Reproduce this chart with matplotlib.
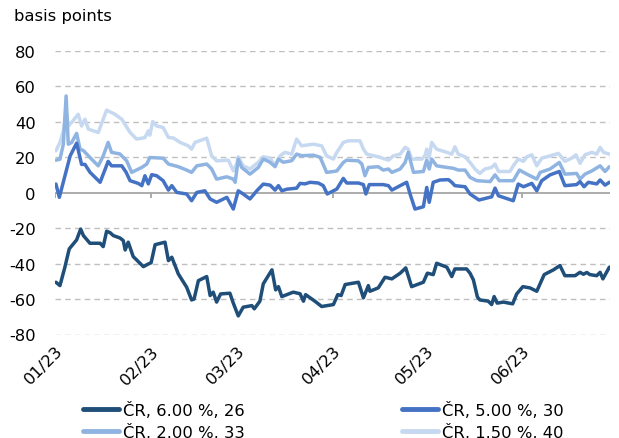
import matplotlib
matplotlib.use('Agg')
import matplotlib.pyplot as plt
import matplotlib.dates as mdates
import numpy as np
import pandas as pd

plt.rcParams['font.family'] = ['DejaVu Sans']
plt.rcParams['axes.unicode_minus'] = False

# ---------------- data (x = days after 1 Jan 2023, y = basis points) ----------------
labels = ['ČR, 6.00 %, 26', 'ČR, 5.00 %, 30', 'ČR, 2.00 %, 33', 'ČR, 1.50 %, 40']
colors = ['#1F4E79', '#4472C4', '#8FB4E2', '#C6D9F1']

days_600 = [0.3, 1.6, 3.2, 4.6, 7.0, 8.3, 9.2, 11.3, 14.6, 15.6, 16.7, 17.8, 18.9, 21.0, 22.1, 22.7,
            23.7, 25.3, 28.6, 30.2, 31.1, 32.4, 35.6, 36.7, 37.8, 39.9, 42.6, 44.2, 45.0, 46.4, 49.1,
            50.2, 51.2, 52.3, 53.6, 56.6, 57.7, 59.3, 60.9, 63.7, 64.5, 66.3, 67.4, 70.2, 71.4, 72.3,
            73.4, 77.1, 79.3, 80.4, 81.1, 84.1, 86.3, 90.1, 91.5, 92.6, 93.9, 98.2, 99.8, 101.4, 101.9,
            104.6, 106.8, 109.0, 111.7, 113.5, 115.4, 119.2, 120.5, 122.4, 123.5, 126.8, 128.4, 129.4,
            133.2, 134.3, 135.4, 136.7, 137.5, 140.2, 141.3, 142.1, 143.1, 145.1, 148.1, 149.4, 151.4,
            153.7, 155.9, 158.3, 161.3, 163.4, 165.0, 168.3, 169.9, 171.0, 172.1, 173.1, 175.3, 176.4,
            177.3, 179.4]
vals_600 = [-50.5, -52.4, -42.0, -31.7, -26.6, -20.5, -24.2, -28.5, -28.5, -30.4, -21.7, -22.5, -24.2,
            -25.5, -27.0, -32.3, -27.9, -36.0, -41.7, -40.2, -39.5, -29.3, -27.9, -38.3, -36.4, -45.8,
            -53.3, -60.5, -60.0, -49.6, -47.3, -58.0, -56.1, -61.7, -57.1, -56.7, -62.3, -69.5, -64.6,
            -63.7, -65.5, -61.2, -51.4, -43.5, -54.8, -53.0, -58.6, -56.1, -57.0, -61.2, -57.5, -61.2,
            -64.2, -63.1, -57.5, -58.0, -51.8, -50.5, -59.3, -52.4, -55.6, -53.7, -47.7, -48.6, -45.4,
            -42.4, -53.0, -50.5, -45.4, -46.2, -39.8, -42.0, -47.3, -43.0, -43.0, -45.4, -49.2, -58.9,
            -60.5, -61.2, -63.1, -58.6, -62.3, -61.7, -62.7, -57.1, -53.0, -53.7, -55.6, -46.2, -43.5,
            -41.1, -46.8, -46.8, -44.9, -46.0, -45.0, -46.2, -46.8, -44.9, -48.6, -42.0]

days_500 = [0.3, 1.4, 4.9, 7.0, 8.6, 9.7, 11.3, 14.6, 17.2, 18.3, 21.6, 23.0, 24.3, 26.9, 28.1, 29.1,
            30.2, 31.3, 32.9, 35.0, 36.7, 37.8, 39.4, 42.6, 44.2, 45.9, 48.5, 50.2, 52.3, 55.6, 57.7,
            59.3, 60.9, 63.1, 65.3, 67.4, 69.6, 71.2, 72.3, 73.4, 75.0, 78.2, 79.3, 80.9, 82.5, 85.2,
            86.8, 88.1, 90.1, 91.2, 93.3, 94.4, 98.2, 99.8, 100.6, 101.7, 106.2, 107.9, 109.0, 111.7,
            113.8, 114.9, 116.5, 119.2, 120.3, 121.1, 122.4, 124.6, 127.3, 128.4, 129.4, 132.7, 134.3,
            137.2, 141.3, 142.4, 143.5, 148.3, 149.9, 151.6, 154.3, 155.9, 157.5, 160.2, 163.2, 165.0,
            168.8, 169.9, 171.2, 172.6, 175.3, 176.4, 178.0, 179.4]
vals_500 = [4.9, -2.6, 20.8, 28.0, 16.0, 16.0, 11.6, 5.9, 17.7, 15.2, 15.2, 11.6, 6.8, 5.3, 4.0, 9.6,
            5.0, 10.2, 9.6, 6.8, 1.5, 4.0, 0.2, -0.7, -4.5, 0.2, 1.1, -3.5, -5.4, -2.6, -9.2, 1.1, -0.7,
            -3.5, 1.1, 4.9, 4.3, 1.5, 4.0, 1.1, 2.0, 2.6, 5.3, 5.0, 5.9, 5.5, 4.0, -0.7, 1.1, 2.1, 8.1,
            5.5, 5.5, 4.6, -0.7, 4.6, 4.6, 4.0, 1.5, 4.0, 5.9, -0.7, -9.2, -7.9, 3.0, -5.4, 5.9, 7.2,
            7.4, 5.9, 4.0, 3.4, -0.7, -4.1, -2.3, 2.6, -1.7, -4.5, 4.9, 3.4, 5.3, 1.1, 6.8, 10.1, 12.0,
            4.0, 4.6, 6.3, 3.4, 5.9, 5.0, 7.2, 4.3, 5.9]

days_200 = [0.3, 1.6, 2.7, 3.6, 4.3, 5.4, 7.0, 8.1, 9.2, 11.3, 14.0, 15.6, 17.2, 18.3, 21.0, 23.2,
            24.8, 28.1, 29.7, 30.7, 35.0, 36.7, 39.9, 42.6, 44.2, 45.9, 49.1, 50.7, 52.3, 55.6, 57.7,
            58.3, 59.3, 60.4, 63.1, 65.8, 67.4, 69.6, 71.2, 72.3, 73.9, 76.6, 78.2, 79.8, 83.6, 85.8,
            87.9, 90.1, 91.2, 93.3, 94.4, 98.2, 99.3, 100.3, 101.4, 104.6, 106.2, 107.9, 109.0, 111.7,
            113.3, 114.3, 116.0, 119.2, 120.3, 121.1, 121.9, 123.5, 126.8, 128.9, 130.5, 132.7, 134.3,
            136.5, 140.8, 142.4, 143.8, 148.3, 150.3, 152.7, 155.9, 157.0, 160.2, 163.2, 165.0, 168.8,
            169.9, 171.5, 173.7, 176.4, 178.0, 179.4]
vals_200 = [18.4, 18.9, 27.4, 54.6, 27.4, 28.4, 33.5, 24.6, 23.8, 19.9, 15.2, 20.8, 28.4, 22.8, 21.9,
            18.0, 11.5, 14.3, 16.2, 19.9, 19.5, 16.2, 14.7, 12.8, 11.5, 15.2, 16.2, 13.4, 7.7, 9.0, 7.7,
            5.9, 19.0, 14.3, 10.5, 14.3, 19.0, 17.2, 14.7, 19.0, 17.2, 18.1, 21.8, 20.9, 21.2, 20.0,
            11.5, 12.0, 12.3, 17.1, 18.4, 18.0, 16.2, 9.6, 14.3, 14.7, 12.8, 13.4, 11.5, 13.4, 17.1,
            22.8, 11.5, 12.0, 18.4, 13.4, 19.0, 15.2, 14.3, 13.8, 12.8, 12.8, 8.7, 6.8, 6.3, 10.1, 6.8,
            6.8, 12.8, 10.5, 7.7, 11.5, 13.4, 17.1, 10.5, 10.9, 7.7, 10.5, 12.3, 15.2, 12.0, 14.7]

days_150 = [0.3, 1.6, 2.7, 3.6, 4.3, 5.4, 7.5, 8.6, 9.7, 10.8, 14.0, 16.7, 19.4, 21.6, 24.3, 26.4,
            29.1, 30.2, 30.7, 31.6, 32.9, 35.0, 36.7, 38.3, 40.5, 43.1, 44.2, 45.3, 49.1, 50.7, 52.3,
            56.1, 57.7, 58.8, 59.3, 60.9, 63.1, 65.8, 67.4, 69.6, 71.2, 72.8, 74.4, 76.6, 78.2, 79.8,
            83.6, 86.3, 87.9, 90.1, 91.2, 93.3, 94.9, 98.7, 99.8, 100.9, 104.6, 107.9, 109.5, 111.7,
            113.3, 114.3, 115.4, 118.7, 119.7, 120.3, 121.1, 121.9, 123.5, 126.8, 128.4, 129.4, 130.5,
            132.7, 134.3, 135.9, 137.5, 139.1, 141.3, 142.4, 143.5, 147.2, 148.3, 149.9, 151.6, 152.7,
            154.3, 155.9, 157.5, 160.2, 162.9, 165.0, 167.2, 168.6, 169.9, 171.5, 173.7, 175.3, 176.4,
            177.5, 179.4]
vals_150 = [23.7, 28.4, 34.9, 46.2, 37.7, 39.7, 44.3, 37.7, 41.5, 35.9, 34.0, 46.6, 44.3, 41.5, 34.0,
            30.3, 31.1, 34.9, 32.5, 40.2, 37.7, 36.8, 31.2, 30.9, 28.4, 26.5, 24.6, 28.4, 30.8, 20.8,
            18.0, 18.4, 12.4, 16.2, 20.3, 15.2, 13.4, 17.2, 20.3, 19.5, 15.2, 20.8, 22.8, 21.8, 30.3,
            26.5, 27.4, 26.5, 20.8, 19.0, 22.8, 28.4, 29.3, 29.3, 24.6, 21.8, 20.3, 18.4, 20.8, 21.8,
            25.6, 24.6, 19.0, 19.0, 20.8, 24.6, 19.9, 28.4, 24.6, 22.8, 21.8, 25.9, 21.8, 20.3, 17.1,
            13.4, 10.9, 13.4, 14.3, 16.2, 12.0, 12.0, 15.2, 19.0, 17.7, 20.3, 21.4, 15.2, 19.5, 20.8,
            22.2, 17.7, 19.5, 21.4, 16.6, 21.4, 22.8, 21.8, 25.6, 22.8, 21.8]

y_ticks = [-80, -60, -40, -20, 0, 20, 40, 60, 80]
month_starts = ['2023-01-01', '2023-02-01', '2023-03-01', '2023-04-01', '2023-05-01', '2023-06-01']

# ---------------- figure ----------------
base = pd.Timestamp('2023-01-01')


def to_dates(d):
    return base + pd.to_timedelta(np.asarray(d, dtype=float), unit='D')


W, H = 619, 439
fig = plt.figure(figsize=(W / 100, H / 100), dpi=100)
left, right, top, bottom = 55, 610, 52, 335.5
ax = fig.add_axes([left / W, 1 - bottom / H, (right - left) / W, (bottom - top) / H])

FS = 11.8
grid_c = '#BFBFBF'
axis_c = '#A6A6A6'

for v in y_ticks:
    if v != 0:
        ax.axhline(v, color=grid_c, lw=1.0, ls=(0, (4, 3)), zorder=0)
ax.axhline(0, color=axis_c, lw=1.3, zorder=1)
ms = pd.to_datetime(month_starts)
ax.vlines(ms, -3.0, 0, color=axis_c, lw=1.3, zorder=1)

series = [(days_150, vals_150, 3), (days_200, vals_200, 2), (days_500, vals_500, 1), (days_600, vals_600, 0)]
handles = {}
for d, v, i in series:
    ln, = ax.plot(to_dates(d), v, color=colors[i], lw=2.5, solid_joinstyle='round',
                  solid_capstyle='round', zorder=2 + (3 - i), label=labels[i])
    handles[i] = ln

ax.set_xlim(base, base + pd.Timedelta(days=179.6))
ax.set_ylim(-80, 80)
ax.set_yticks(y_ticks)
ax.set_yticklabels([str(t) for t in y_ticks])
ax.set_xticks(ms)
ax.xaxis.set_major_formatter(mdates.DateFormatter('%m/%y'))
ax.tick_params(axis='both', length=0, labelsize=FS, colors='#000000')
ax.tick_params(axis='y', pad=14)
ax.tick_params(axis='x', pad=6)
for lab in ax.get_xticklabels():
    lab.set_rotation(45)
    lab.set_ha('right')
    lab.set_va('top')
    lab.set_rotation_mode('anchor')
for s in ax.spines.values():
    s.set_visible(False)

fig.text(14 / W, 1 - 17 / H, 'basis points', fontsize=FS, ha='left', va='center')

# legend: row 1 = 6.00 %, 5.00 %; row 2 = 2.00 %, 1.50 % (matplotlib fills columns first)
order = [0, 2, 1, 3]
leg = fig.legend([handles[i] for i in order], [labels[i] for i in order],
                 loc='upper left', bbox_to_anchor=(83 / W, 1 - 402 / H), ncol=2,
                 frameon=False, fontsize=FS, handlelength=2.2, handletextpad=0.25,
                 columnspacing=9.6, labelspacing=0.3, borderaxespad=0, borderpad=0)
for l in leg.get_lines():
    l.set_linewidth(3.5)

fig.savefig('out.png', dpi=100)
